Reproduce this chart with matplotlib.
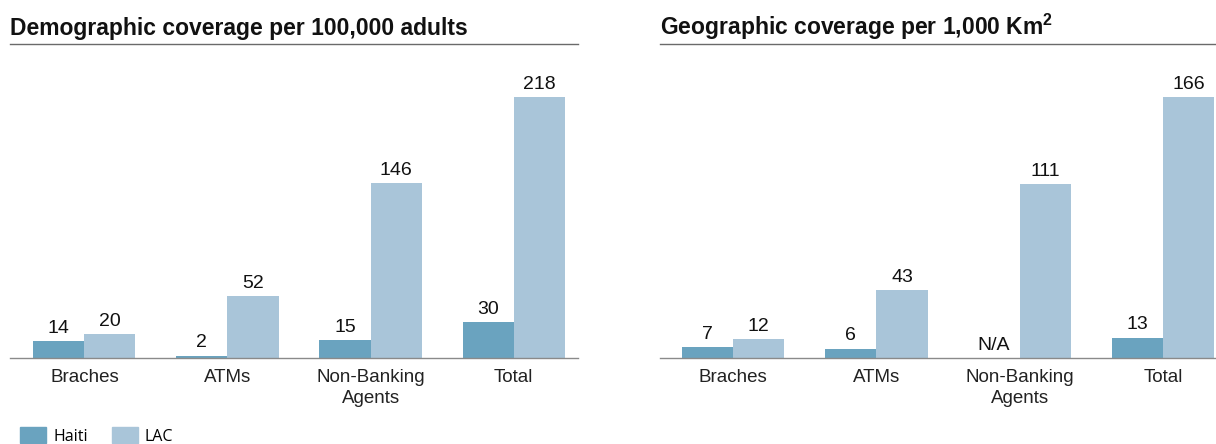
import numpy as np
import matplotlib
matplotlib.use("Agg")
import matplotlib.pyplot as plt
from matplotlib.patches import Patch

categories = ["Braches", "ATMs", "Non-Banking\nAgents", "Total"]
demo_haiti = [14, 2, 15, 30]
demo_lac = [20, 52, 146, 218]
geo_haiti = [7, 6, np.nan, 13]
geo_lac = [12, 43, 111, 166]
series_names = ["Haiti", "LAC"]

c_haiti = "#6aa3bf"
c_lac = "#a9c5d9"
plt.rcParams["font.family"] = ["Liberation Sans", "DejaVu Sans"]

fig = plt.figure(figsize=(12.16, 4.44), dpi=100)
W, H = 1216, 444
ax1 = fig.add_axes([10 / W, 1 - 358 / H, 568 / W, 314 / H])
ax2 = fig.add_axes([660 / W, 1 - 358 / H, 556 / W, 314 / H])

def draw(ax, haiti, lac, ymax, xlim, title):
    x = np.arange(len(categories))
    w = 0.357
    ax.bar(x - w / 2, np.nan_to_num(haiti), w, color=c_haiti)
    ax.bar(x + w / 2, lac, w, color=c_lac)
    for xi, v in zip(x, haiti):
        txt = "N/A" if np.isnan(v) else f"{v:g}"
        val = 0 if np.isnan(v) else v
        ax.annotate(txt, (xi - w / 2, val), xytext=(0, 3),
                    textcoords="offset points", ha="center", va="bottom",
                    fontsize=14, color="#111111")
    for xi, v in zip(x, lac):
        ax.annotate(f"{v:g}", (xi + w / 2, v), xytext=(0, 3),
                    textcoords="offset points", ha="center", va="bottom",
                    fontsize=14, color="#111111")
    ax.set_xlim(*xlim)
    ax.set_ylim(0, ymax)
    ax.set_xticks(x)
    ax.set_xticklabels(categories, fontsize=13.5, color="#222222",
                       linespacing=1.3)
    ax.tick_params(axis="x", length=0, pad=8)
    ax.set_yticks([])
    for s in ["left", "right"]:
        ax.spines[s].set_visible(False)
    ax.spines["bottom"].set_color("#8a8a8a")
    ax.spines["top"].set_color("#6a6a6a")
    ax.spines["bottom"].set_linewidth(1.0)
    ax.spines["top"].set_linewidth(1.0)
    ax.set_title(title, loc="left", fontsize=16.5, fontweight="bold", pad=6.5,
                 color="#111111")

draw(ax1, demo_haiti, demo_lac, 262, (-0.52, 3.45),
     "Demographic coverage per 100,000 adults")
draw(ax2, geo_haiti, geo_lac, 200, (-0.51, 3.37),
     "Geographic coverage per 1,000 Km$^\\mathregular{2}$")

handles = [Patch(color=c_haiti), Patch(color=c_lac)]
fig.legend(handles, series_names, loc="center left", ncol=2, frameon=False,
           bbox_to_anchor=(20 / W, 1 - 436 / H), borderpad=0, borderaxespad=0,
           handlelength=1.63, handleheight=1.12,
           handletextpad=0.44, columnspacing=1.5,
           prop={"family": "Open Sans", "size": 11.5})

fig.savefig("out.png", dpi=100)
